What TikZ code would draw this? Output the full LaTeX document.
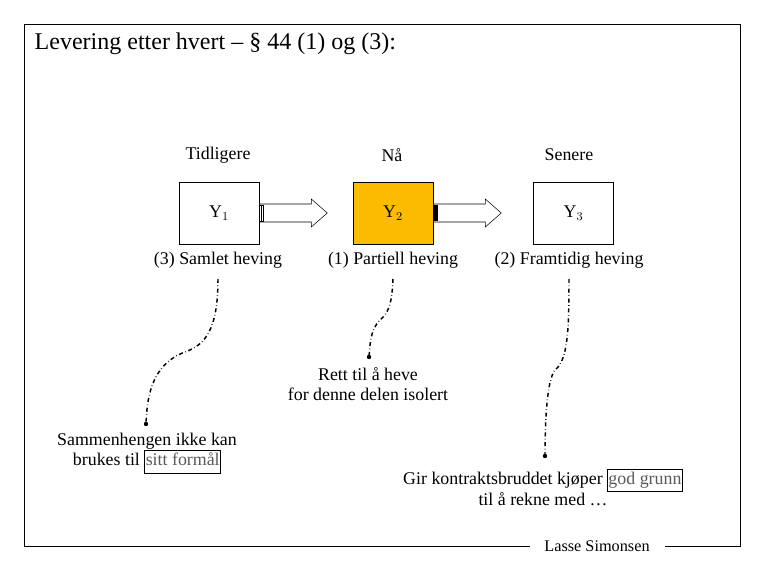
\documentclass[tikz,border=0pt]{standalone}
\usepackage{fontspec}
\setmainfont{Liberation Serif}
\definecolor{gold}{HTML}{FBBB00}
\newcommand{\bxw}[1]{{\setlength\fboxsep{0.5pt}\setlength\fboxrule{0.5pt}\fbox{\textcolor{black!65}{#1}\strut}}}
\begin{document}
\begin{tikzpicture}[x=0.75pt,y=-0.75pt,
  box/.style={draw,minimum width=60pt,minimum height=46.5pt,font=\fontsize{13.4}{15}\selectfont},
  lbl/.style={font=\fontsize{13.4}{15}\selectfont},
  txt/.style={font=\fontsize{13.4}{15.5}\selectfont,align=center}, 
  dd/.style={dash dot,line width=1.1pt}]
\useasboundingbox (0,0) rectangle (765,570);
\draw (530,546) -- (24,546) -- (24,24) -- (740,24) -- (740,546) -- (665,546);
\node[font=\fontsize{18}{21}\selectfont,anchor=west] (title) at (30,44) {Levering etter hvert – § 44 (1) og (3):};
\node[font=\fontsize{12.2}{14}\selectfont] (foot) at (597,546) {Lasse Simonsen};
\node[lbl] (t1) at (218,155) {Tidligere};
\node[lbl] (t2) at (392,155) {Nå};
\node[lbl] (t3) at (569,155) {Senere};
\node[box] (y1) at (219,213) {Y$_1$};
\node[box,fill=gold] (y2) at (393,213) {Y$_2$};
\node[box] (y3) at (573.5,213) {Y$_3$};
\foreach \n in {y1,y2}{
  \draw[fill=white] (\n.east) ++(0,-9) -- ++(52,0) -- ++(0,-5) -- ++(16,14) -- ++(-16,14) -- ++(0,-5) -- ++(-52,0) -- cycle;}
\draw[fill=white] (259,205) rectangle (263,221); \draw (261,205)--(261,221);
\fill (433,205) rectangle (438,221);
\node[lbl] (l1) at (218,260) {(3) Samlet heving};
\node[lbl] (l2) at (393,260) {(1) Partiell heving};
\node[lbl] (l3) at (569,260) {(2) Framtidig heving};
\coordinate (e1) at (146,424);
\coordinate (e2) at (369,357);
\coordinate (e3) at (545,456);
\draw[dd] (l1.south) ++(0,6) .. controls (218,330) and (205,345) .. (185,352) .. controls (150,365) and (147,400) .. (e1);
\draw[dd] (l2.south) ++(0,6) .. controls (392,300) and (390,312) .. (380,320) .. controls (370,330) and (370,345) .. (e2);
\draw[dd] (l3.south) ++(0,6) .. controls (569,330) and (568,360) .. (555,370) .. controls (547,380) and (545,420) .. (e3);
\fill (e1) circle (2.2); \fill (e2) circle (2.2); \fill (e3) circle (2.2);
\node[txt] (r2) at (368,384) {Rett til å heve\\for denne delen isolert};
\node[txt] (r1) at (147,453) {Sammenhengen ikke kan\\brukes til \bxw{sitt formål}};
\node[txt] (r3) at (543,487) {Gir kontraktsbruddet kjøper \bxw{god grunn}\\til å rekne med …};
\end{tikzpicture}
\end{document}
